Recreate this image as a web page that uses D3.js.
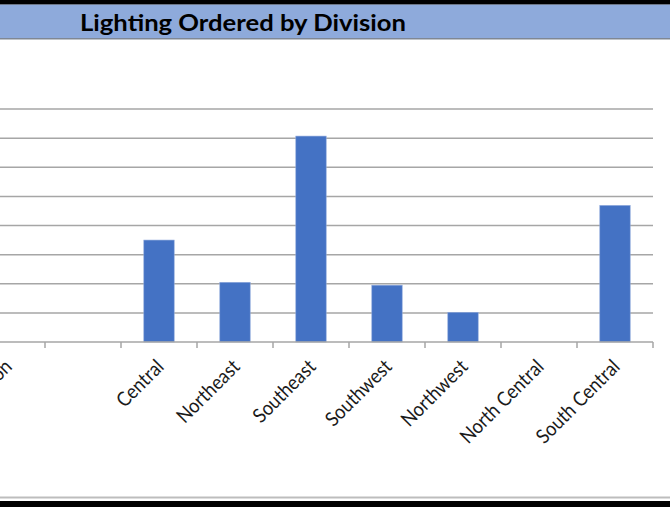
<!DOCTYPE html>
<html>
<head>
<meta charset="utf-8">
<script src="https://cdn.jsdelivr.net/npm/d3@7"></script>
<style>
  html, body { margin: 0; padding: 0; background: #fff; }
  svg { display: block; }
</style>
</head>
<body>
<svg id="chart" width="670" height="507"></svg>
<script>
const title = "Lighting Ordered by Division";
const categories = ["Division", " ", "Central", "Northeast", "Southeast", "Southwest", "Northwest", "North Central", "South Central"];
const values = [0, 0, 3.5, 2.05, 7.07, 1.95, 1.02, 0, 4.69];
const yTicks = [0, 1, 2, 3, 4, 5, 6, 7, 8];

const svg = d3.select("#chart");
const W = 670, H = 507;

// frame: top black strip, title band
svg.append("rect").attr("x", 0).attr("y", 0).attr("width", W).attr("height", 4).attr("fill", "#000");
svg.append("rect").attr("x", 0).attr("y", 4).attr("width", W).attr("height", 1).attr("fill", "#6d7686");
svg.append("rect").attr("x", 0).attr("y", 5).attr("width", W).attr("height", 33).attr("fill", "#8eaadb");
svg.append("rect").attr("x", 0).attr("y", 38).attr("width", W).attr("height", 1.5).attr("fill", "#7f8794");

svg.append("text")
  .attr("x", 80).attr("y", 30.5)
  .attr("font-family", "Lato, 'Open Sans', sans-serif")
  .attr("font-weight", "bold")
  .attr("font-size", 23)
  .attr("textLength", 326)
  .attr("lengthAdjust", "spacingAndGlyphs")
  .attr("fill", "#000")
  .text(title);

// bottom frame
svg.append("rect").attr("x", 0).attr("y", 496.5).attr("width", W).attr("height", 2).attr("fill", "#bdbdbd");
svg.append("rect").attr("x", 0).attr("y", 501).attr("width", W).attr("height", 6).attr("fill", "#000");

// scales
const x = d3.scaleBand().domain(categories).range([-31, 653]).padding(0);
const y = d3.scaleLinear().domain([0, 8]).range([342, 109]);

// gridlines
svg.append("g").selectAll("line")
  .data(yTicks.filter(d => d > 0))
  .join("line")
  .attr("x1", -40).attr("x2", 653)
  .attr("y1", d => y(d)).attr("y2", d => y(d))
  .attr("stroke", "#a6a6a6").attr("stroke-width", 1.5);

// bars
const bw = x.bandwidth() * 0.4;
svg.append("g").selectAll("rect")
  .data(categories.map((c, i) => ({c, v: values[i]})).filter(d => d.v > 0))
  .join("rect")
  .attr("x", d => x(d.c) + (x.bandwidth() - bw) / 2)
  .attr("width", bw)
  .attr("y", d => y(d.v))
  .attr("height", d => y(0) - y(d.v))
  .attr("fill", "#4472c4")
  .attr("stroke", "#8fa9dc").attr("stroke-width", 0.6);

// x axis
const gx = svg.append("g").attr("transform", `translate(0,${y(0)})`);
gx.append("line").attr("x1", -40).attr("x2", 653).attr("y1", 0).attr("y2", 0)
  .attr("stroke", "#a6a6a6").attr("stroke-width", 1.5);
const boundaries = categories.map(c => x(c)).concat([x(categories[categories.length - 1]) + x.bandwidth()]);
gx.selectAll("line.tick").data(boundaries).join("line")
  .attr("class", "tick")
  .attr("x1", d => d).attr("x2", d => d)
  .attr("y1", 0).attr("y2", 6)
  .attr("stroke", "#a6a6a6").attr("stroke-width", 1.5);

const labels = gx.selectAll("text.lbl").data(categories).join("text")
  .attr("class", "lbl")
  .attr("text-anchor", "end")
  .attr("font-family", "Lato, 'Open Sans', sans-serif")
  .attr("font-size", 20)
  .attr("fill", "#1a1a1a")
  .attr("transform", c => `translate(${x(c) + x.bandwidth() / 2 + 6},${26}) rotate(-45)`)
  .text(c => c.trim());
labels.each(function() {
  const len = this.getComputedTextLength();
  if (len > 0) d3.select(this).attr("textLength", len * 0.9).attr("lengthAdjust", "spacingAndGlyphs");
});
</script>
</body>
</html>
